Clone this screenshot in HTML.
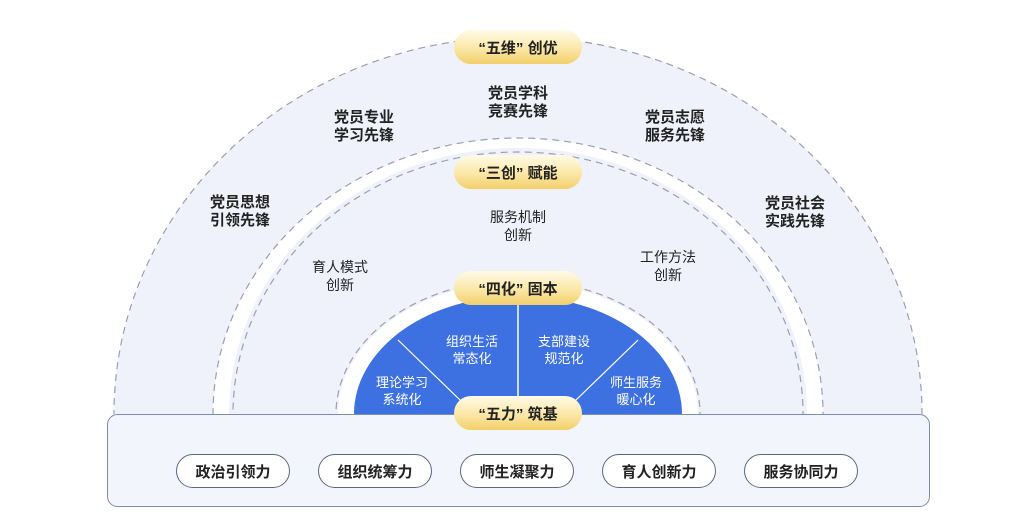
<!DOCTYPE html>
<html><head><meta charset="utf-8"><style>
html,body{margin:0;padding:0;background:#fff;width:1036px;height:513px;overflow:hidden;}
svg{display:block;}
text{font-family:"Liberation Sans","Noto Sans CJK SC",sans-serif;}
</style></head><body>
<svg width="1036" height="513" viewBox="0 0 1036 513" xmlns="http://www.w3.org/2000/svg">
<defs>
<linearGradient id="g" x1="0" y1="0" x2="0" y2="1">
<stop offset="0" stop-color="#fffbe8"/><stop offset="0.55" stop-color="#fbe7a6"/><stop offset="1" stop-color="#f2cf6a"/>
</linearGradient>
<clipPath id="top"><rect x="0" y="0" width="1036" height="414"/></clipPath>
</defs>
<rect width="1036" height="513" fill="#fff"/>
<g clip-path="url(#top)">
<ellipse cx="518" cy="414" rx="404" ry="377" fill="#eff1fb"/>
<ellipse cx="518" cy="414" rx="404" ry="377" fill="none" stroke="#9aa0b0" stroke-width="1.2" stroke-dasharray="7 5"/>
<ellipse cx="518" cy="414" rx="305" ry="276" fill="#fff"/>
<ellipse cx="518" cy="414" rx="305" ry="276" fill="none" stroke="#9aa0b0" stroke-width="1.2" stroke-dasharray="7 5"/>
<ellipse cx="518" cy="414" rx="289" ry="266" fill="#eff1fb"/>
<ellipse cx="518" cy="414" rx="285" ry="262" fill="none" stroke="#9aa0b0" stroke-width="1.2" stroke-dasharray="7 5"/>
<ellipse cx="518" cy="414" rx="180" ry="132" fill="#fff"/>
<ellipse cx="518" cy="414" rx="182" ry="134" fill="none" stroke="#9aa0b0" stroke-width="1.2" stroke-dasharray="7 5"/>
<ellipse cx="518" cy="414" rx="164" ry="118" fill="#3d70e0"/>
<line x1="518" y1="296" x2="518" y2="414" stroke="#fff" stroke-width="1.5"/>
<line x1="398" y1="340" x2="460" y2="400" stroke="#fff" stroke-width="1.2"/>
<line x1="638" y1="340" x2="576" y2="400" stroke="#fff" stroke-width="1.2"/>
</g>
<rect x="107.5" y="414.5" width="822" height="92" rx="10" fill="#f3f5fc" stroke="#7f8cab" stroke-width="1"/>
<g font-size="15" font-weight="bold" fill="#222" text-anchor="middle">
<text x="364" y="122">党员专业</text><text x="364" y="140">学习先锋</text>
<text x="518" y="98">党员学科</text><text x="518" y="116">竞赛先锋</text>
<text x="675" y="122">党员志愿</text><text x="675" y="140">服务先锋</text>
<text x="240" y="207">党员思想</text><text x="240" y="225">引领先锋</text>
<text x="795" y="208">党员社会</text><text x="795" y="226">实践先锋</text>
</g>
<g font-size="14" fill="#222" text-anchor="middle">
<text x="518" y="222">服务机制</text><text x="518" y="240">创新</text>
<text x="340" y="272">育人模式</text><text x="340" y="290">创新</text>
<text x="668" y="262">工作方法</text><text x="668" y="280">创新</text>
</g>
<g font-size="13" fill="#fff" text-anchor="middle">
<text x="472" y="346">组织生活</text><text x="472" y="363">常态化</text>
<text x="564" y="346">支部建设</text><text x="564" y="363">规范化</text>
<text x="402" y="387">理论学习</text><text x="402" y="404">系统化</text>
<text x="636" y="387">师生服务</text><text x="636" y="404">暖心化</text>
</g>
<g font-size="15" font-weight="bold" fill="#222" text-anchor="middle">
<rect x="454" y="30" width="128" height="34" rx="17" fill="url(#g)"/><text x="518" y="53">“五维” 创优</text>
<rect x="454" y="155" width="128" height="34" rx="17" fill="url(#g)"/><text x="518" y="178">“三创” 赋能</text>
<rect x="454" y="271" width="128" height="34" rx="17" fill="url(#g)"/><text x="518" y="294">“四化” 固本</text>
<rect x="454" y="396" width="128" height="34" rx="17" fill="url(#g)"/><text x="518" y="419">“五力” 筑基</text>
</g>
<g font-size="15" font-weight="bold" fill="#222" text-anchor="middle">
<rect x="176.5" y="454.5" width="113" height="33" rx="16.5" fill="#fff" stroke="#5d6680"/><text x="233" y="477">政治引领力</text>
<rect x="318.5" y="454.5" width="113" height="33" rx="16.5" fill="#fff" stroke="#5d6680"/><text x="375" y="477">组织统筹力</text>
<rect x="460.5" y="454.5" width="113" height="33" rx="16.5" fill="#fff" stroke="#5d6680"/><text x="517" y="477">师生凝聚力</text>
<rect x="602.5" y="454.5" width="113" height="33" rx="16.5" fill="#fff" stroke="#5d6680"/><text x="659" y="477">育人创新力</text>
<rect x="744.5" y="454.5" width="113" height="33" rx="16.5" fill="#fff" stroke="#5d6680"/><text x="801" y="477">服务协同力</text>
</g>
</svg>
</body></html>
